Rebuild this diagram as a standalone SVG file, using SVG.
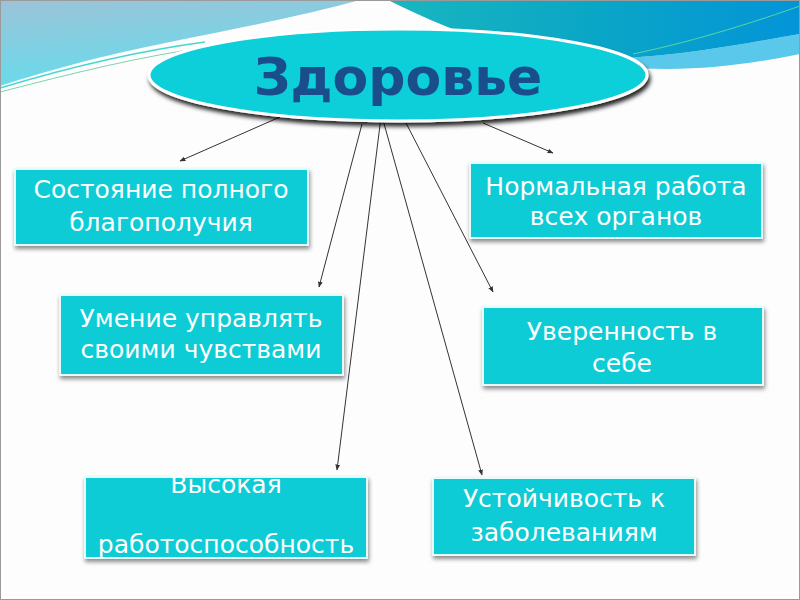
<svg xmlns="http://www.w3.org/2000/svg" width="800" height="600" viewBox="0 0 800 600">
<style>
.box{fill:#10ccd6;stroke:#e8fbfc;stroke-width:2;filter:url(#sh)}
.lbl{font-family:"DejaVu Sans","Noto Sans",sans-serif;font-size:25px;fill:#ffffff;text-anchor:middle}
.con{stroke:#333333;stroke-width:1;fill:none;marker-end:url(#ah)}
</style>
<defs>
<filter id="sh" x="-10%" y="-20%" width="120%" height="150%">
<feDropShadow dx="1" dy="3" stdDeviation="2" flood-color="#000" flood-opacity="0.45"/>
</filter>
<filter id="esh" x="-10%" y="-30%" width="120%" height="170%">
<feDropShadow dx="2" dy="4" stdDeviation="2" flood-color="#000" flood-opacity="0.85"/>
</filter>
<linearGradient id="gl" x1="0" y1="0" x2="0.3" y2="1">
<stop offset="0" stop-color="#9cc3d8"/>
<stop offset="1" stop-color="#66dcec"/>
</linearGradient>
<linearGradient id="gr" x1="0" y1="0" x2="1" y2="0">
<stop offset="0" stop-color="#19b6c0"/>
<stop offset="0.5" stop-color="#0aa6c6"/>
<stop offset="1" stop-color="#0394d8"/>
</linearGradient>
<marker id="ah" viewBox="0 0 10 10" refX="9" refY="5" markerWidth="6" markerHeight="6" orient="auto" markerUnits="userSpaceOnUse">
<path d="M0,1 L10,5 L0,9 Z" fill="#333333"/>
</marker>
</defs>
<rect x="0" y="0" width="800" height="600" fill="#fdfdfd"/>
<!-- background waves -->
<path d="M0,0 H360 C310,14 240,28 170,42 C100,56 50,70 0,86 Z" fill="url(#gl)"/>
<path d="M0,88 C60,70 130,52 205,42" stroke="#4ad6d0" stroke-width="1.5" fill="none"/>
<path d="M0,92 C70,74 140,56 215,46" stroke="#7ad6a8" stroke-width="1" fill="none"/>
<path d="M560,58 C650,62 720,48 800,34 V54 C720,70 650,76 560,58 Z" fill="#5ac8ea"/>
<path d="M388,0 H800 V34 C720,48 650,62 560,58 C500,50 440,26 388,0 Z" fill="url(#gr)"/>
<path d="M633,54 C700,40 760,20 800,6" stroke="#5ad6a0" stroke-width="1" fill="none"/>
<rect x="0.5" y="0.5" width="799" height="599" fill="none" stroke="#9a9a9a" stroke-width="1"/>

<g id="connectors">
<line class="con" x1="280" y1="117" x2="180" y2="161"/>
<line class="con" x1="362" y1="124" x2="319" y2="287"/>
<line class="con" x1="381" y1="117" x2="337" y2="470"/>
<line class="con" x1="383" y1="120" x2="482" y2="475"/>
<line class="con" x1="406" y1="123" x2="493" y2="292"/>
<line class="con" x1="483" y1="123" x2="553" y2="153"/>
</g>

<g id="health">
<ellipse cx="398" cy="75" rx="249" ry="46" fill="#0fcfd9" stroke="#ffffff" stroke-width="3" filter="url(#esh)"/>
<text x="398" y="95" font-family="'DejaVu Sans',Verdana,sans-serif" font-weight="bold" font-size="52" fill="#194d8c" text-anchor="middle">Здоровье</text>
</g>

<g id="n1">
<rect class="box" x="15" y="169" width="293" height="76"/>
<text class="lbl" x="161" y="198">Состояние полного</text>
<text class="lbl" x="161" y="231">благополучия</text>
</g>
<g id="n2">
<rect class="box" x="470" y="163" width="292" height="75"/>
<text class="lbl" x="616" y="195">Нормальная работа</text>
<text class="lbl" x="616" y="225">всех органов</text>
</g>
<g id="n3">
<rect class="box" x="60" y="295" width="283" height="80"/>
<text class="lbl" x="201" y="327">Умение управлять</text>
<text class="lbl" x="201" y="358">своими чувствами</text>
</g>
<g id="n4">
<rect class="box" x="483" y="307" width="280" height="78"/>
<text class="lbl" x="622" y="340">Уверенность в</text>
<text class="lbl" x="622" y="372">себе</text>
</g>
<g id="n5">
<rect class="box" x="85" y="477" width="282" height="81"/>
<text class="lbl" x="226" y="493">Высокая</text>
<text class="lbl" x="226" y="553">работоспособность</text>
</g>
<g id="n6">
<rect class="box" x="433" y="478" width="262" height="77"/>
<text class="lbl" x="564" y="507">Устойчивость к</text>
<text class="lbl" x="564" y="541">заболеваниям</text>
</g>
</svg>
